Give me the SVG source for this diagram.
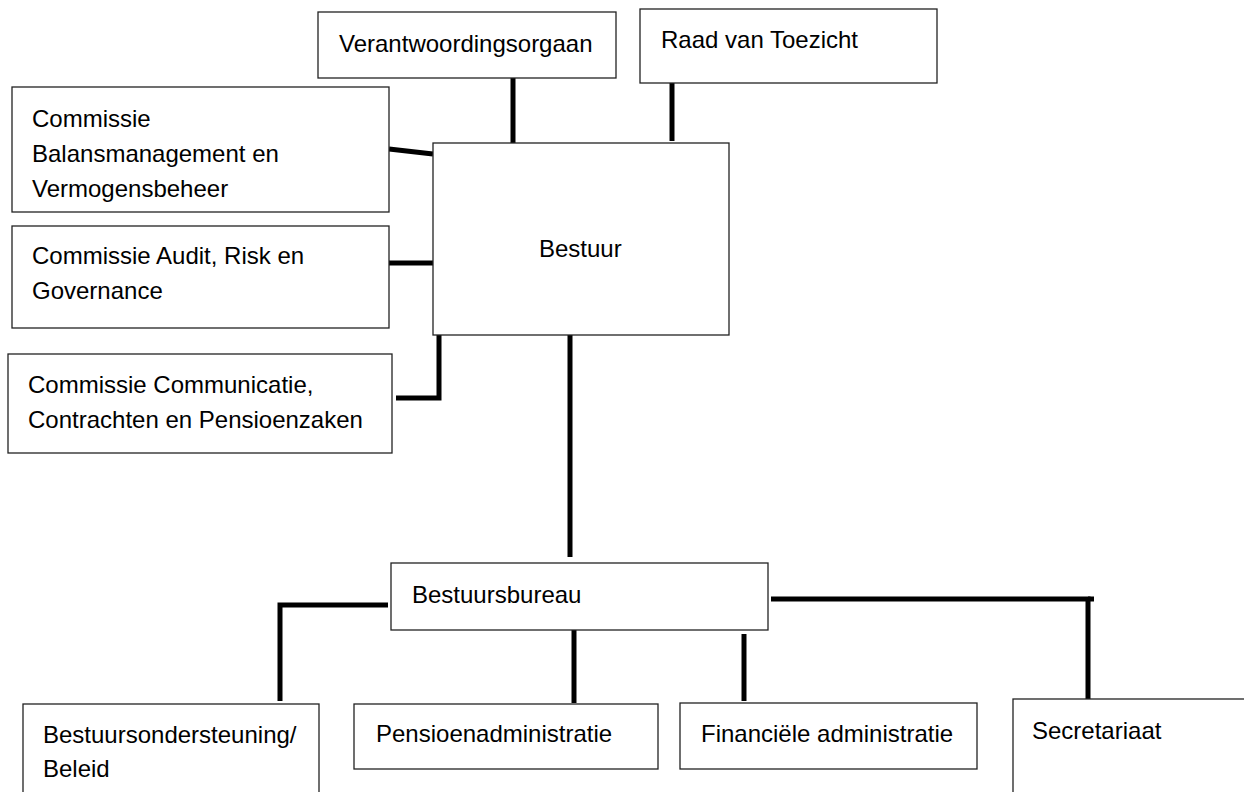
<svg xmlns="http://www.w3.org/2000/svg" width="1244" height="792" viewBox="0 0 1244 792">
<style>
.box{fill:#fff;stroke:#222;stroke-width:1.3}
.t{font-family:"Liberation Sans",Arial,sans-serif;font-size:24px;fill:#000}
.c{stroke:#000;stroke-width:5;fill:none;stroke-linecap:butt;stroke-linejoin:miter}
</style>
<rect width="1244" height="792" fill="#fff"/>
<g id="connectors">
<line class="c" x1="513" y1="78" x2="513" y2="145"/>
<line class="c" x1="672" y1="83" x2="672" y2="141"/>
<line class="c" x1="389" y1="149" x2="433" y2="154"/>
<line class="c" x1="389" y1="263" x2="433" y2="263"/>
<polyline class="c" points="396,398 439,398 439,332"/>
<line class="c" x1="570" y1="335" x2="570" y2="557"/>
<polyline class="c" points="388,605 280,605 280,701"/>
<line class="c" x1="574" y1="626" x2="574" y2="703"/>
<line class="c" x1="744" y1="634" x2="744" y2="701"/>
<polyline class="c" points="771,599 1088,599 1088,699"/>
<line class="c" x1="1088" y1="599" x2="1094" y2="599"/>
</g>
<g id="verantwoordingsorgaan">
<rect class="box" x="318" y="12" width="298" height="66"/>
<text class="t" x="339" y="52">Verantwoordingsorgaan</text>
</g>
<g id="raad-van-toezicht">
<rect class="box" x="640" y="9" width="297" height="74"/>
<text class="t" x="661" y="48">Raad van Toezicht</text>
</g>
<g id="bestuur">
<rect class="box" x="433" y="143" width="296" height="192"/>
<text class="t" x="539" y="257">Bestuur</text>
</g>
<g id="commissie-balans">
<rect class="box" x="12" y="87" width="377" height="125"/>
<text class="t" x="32" y="127">Commissie</text>
<text class="t" x="32" y="162">Balansmanagement en</text>
<text class="t" x="32" y="197">Vermogensbeheer</text>
</g>
<g id="commissie-audit">
<rect class="box" x="12" y="226" width="377" height="102"/>
<text class="t" x="32" y="264">Commissie Audit, Risk en</text>
<text class="t" x="32" y="299">Governance</text>
</g>
<g id="commissie-communicatie">
<rect class="box" x="8" y="354" width="384" height="99"/>
<text class="t" x="28" y="393">Commissie Communicatie,</text>
<text class="t" x="28" y="428">Contrachten en Pensioenzaken</text>
</g>
<g id="bestuursbureau">
<rect class="box" x="391" y="563" width="377" height="67"/>
<text class="t" x="412" y="603">Bestuursbureau</text>
</g>
<g id="bestuursondersteuning">
<rect class="box" x="23" y="704" width="296" height="100"/>
<text class="t" x="43" y="743">Bestuursondersteuning/</text>
<text class="t" x="43" y="777">Beleid</text>
</g>
<g id="pensioenadministratie">
<rect class="box" x="354" y="704" width="304" height="65"/>
<text class="t" x="376" y="742">Pensioenadministratie</text>
</g>
<g id="financiele-administratie">
<rect class="box" x="680" y="703" width="297" height="66"/>
<text class="t" x="701" y="742">Financiële administratie</text>
</g>
<g id="secretariaat">
<rect class="box" x="1013" y="699" width="260" height="110"/>
<text class="t" x="1032" y="739">Secretariaat</text>
</g>
</svg>
